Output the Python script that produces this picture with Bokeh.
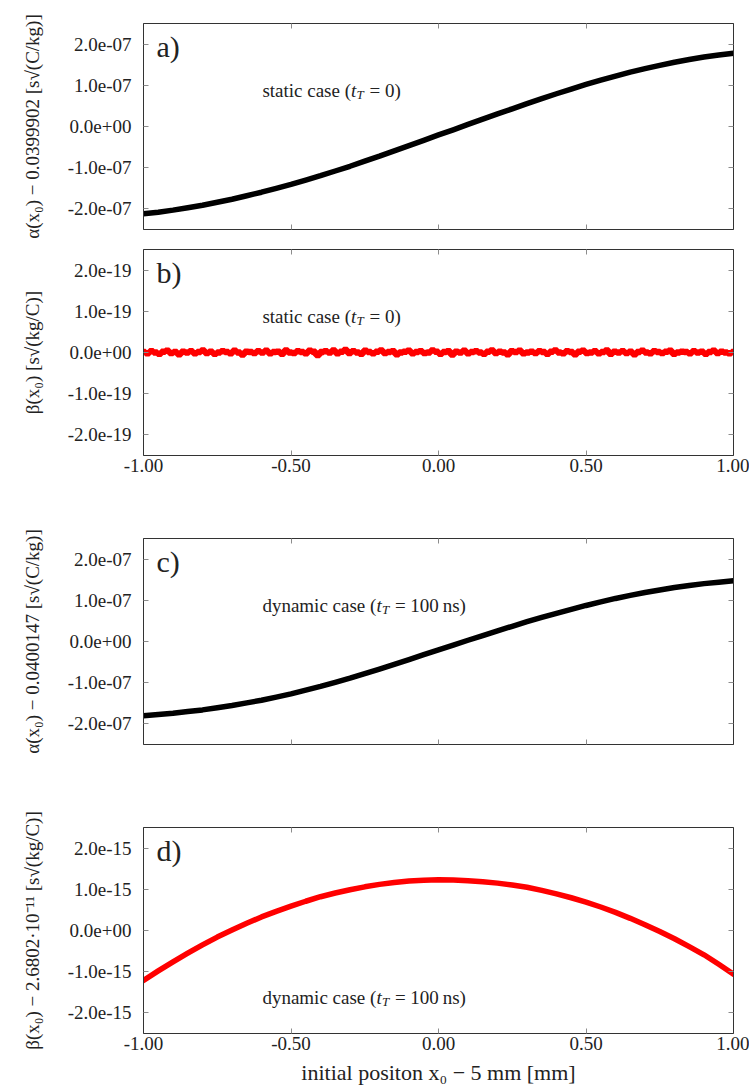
import numpy as np
from bokeh.plotting import figure
from bokeh.models import (Range1d, FixedTicker, LinearAxis, Label, CustomJSTickFormatter,
                          PrintfTickFormatter, CustomLabelingPolicy)
from bokeh.layouts import column
from bokeh.embed import file_html
from bokeh.resources import INLINE

FONT = "Liberation Serif"

# ---------------- data ----------------
x_grid = [-1.00, -0.95, -0.90, -0.85, -0.80, -0.75, -0.70, -0.65, -0.60, -0.55, -0.50,
          -0.45, -0.40, -0.35, -0.30, -0.25, -0.20, -0.15, -0.10, -0.05, 0.00,
          0.05, 0.10, 0.15, 0.20, 0.25, 0.30, 0.35, 0.40, 0.45, 0.50,
          0.55, 0.60, 0.65, 0.70, 0.75, 0.80, 0.85, 0.90, 0.95, 1.00]

# panel a: alpha(x0) - 0.0399902, in units of 1e-7
alpha_static = [-2.12, -2.08, -2.03, -1.97, -1.91, -1.84, -1.765, -1.68, -1.595, -1.50, -1.405,
                -1.30, -1.195, -1.08, -0.965, -0.84, -0.72, -0.59, -0.465, -0.335, -0.205,
                -0.08, 0.05, 0.18, 0.305, 0.43, 0.555, 0.675, 0.795, 0.91, 1.02,
                1.125, 1.225, 1.32, 1.405, 1.485, 1.56, 1.625, 1.685, 1.735, 1.78]
# panel c: alpha(x0) - 0.0400147, in units of 1e-7
alpha_dynamic = [-1.80, -1.77, -1.74, -1.70, -1.66, -1.61, -1.555, -1.49, -1.425, -1.35, -1.27,
                 -1.18, -1.09, -0.99, -0.89, -0.78, -0.67, -0.555, -0.44, -0.32, -0.205,
                 -0.09, 0.03, 0.145, 0.26, 0.37, 0.48, 0.585, 0.685, 0.78, 0.875,
                 0.96, 1.045, 1.12, 1.19, 1.25, 1.31, 1.36, 1.405, 1.44, 1.475]
# panel d: beta(x0) - 2.6802e-11, in units of 1e-15
beta_dynamic = [-1.21, -0.98, -0.76, -0.55, -0.35, -0.16, 0.01, 0.175, 0.33, 0.465, 0.59,
                0.71, 0.82, 0.91, 0.99, 1.06, 1.12, 1.165, 1.20, 1.22, 1.23,
                1.225, 1.21, 1.185, 1.15, 1.105, 1.05, 0.975, 0.89, 0.795, 0.69,
                0.57, 0.44, 0.295, 0.14, -0.025, -0.20, -0.39, -0.59, -0.82, -1.06]
# panel b: beta(x0) static (numerical noise), in units of 1e-19
beta_static = [
    0.01, -0.02, 0.03, 0.00, -0.03, 0.02, 0.04, -0.01, 0.01, -0.04,
    0.02, 0.00, 0.03, -0.02, 0.01, 0.05, -0.01, 0.02, -0.03, 0.00,
    0.03, 0.01, -0.02, 0.04, 0.00, -0.05, 0.02, 0.01, -0.01, 0.03,
    0.00, 0.04, -0.02, 0.01, 0.02, -0.03, 0.05, 0.00, -0.01, 0.03,
    0.01, -0.02, 0.04, 0.02, -0.06, 0.01, 0.03, 0.00, 0.05, -0.02,
    0.02, 0.06, -0.01, 0.03, 0.00, -0.03, 0.04, 0.01, -0.02, 0.02,
    0.05, -0.01, 0.01, 0.03, -0.04, 0.00, 0.02, 0.04, -0.02, 0.01,
    0.03, -0.01, 0.00, 0.05, 0.02, -0.03, 0.01, 0.03, -0.05, 0.02,
    0.00, 0.04, -0.02, 0.01, 0.03, 0.00, -0.03, 0.02, 0.05, -0.01,
    0.02, 0.00, -0.04, 0.03, 0.01, 0.04, -0.02, 0.00, 0.02, -0.01,
    0.03, 0.01, -0.03, 0.02, 0.05, 0.00, -0.02, 0.03, 0.01, -0.04,
    0.02, 0.04, -0.01, 0.00, 0.03, -0.02, 0.01, 0.05, -0.03, 0.02,
    0.00, 0.03, -0.01, 0.02, -0.04, 0.01, 0.04, 0.00, -0.02, 0.03,
    0.01, -0.01, 0.02, 0.04, -0.03, 0.00, 0.02, 0.01, -0.02, 0.03,
    0.00, 0.02, -0.03, 0.01, 0.04, -0.01, 0.02, 0.00, -0.02, 0.01,
]
x_noise = list(np.linspace(-1.0, 1.0, len(beta_static)))

x_ticks = [-1.0, -0.5, 0.0, 0.5, 1.0]
x_tick_labels = ["-1.00", "-0.50", "0.00", "0.50", "1.00"]
y_ticks_unit = [-2.0, -1.0, 0.0, 1.0, 2.0]
y_labels_e07 = ["-2.0e-07", "-1.0e-07", "0.0e+00", "1.0e-07", "2.0e-07"]
y_labels_e19 = ["-2.0e-19", "-1.0e-19", "0.0e+00", "1.0e-19", "2.0e-19"]
y_labels_e15 = ["-2.0e-15", "-1.0e-15", "0.0e+00", "1.0e-15", "2.0e-15"]

ylabel_a = "α(x₀) − 0.0399902 [s√(C/kg)]"
ylabel_b = "β(x₀) [s√(kg/C)]"
ylabel_c = "α(x₀) − 0.0400147 [s√(C/kg)]"
ylabel_d = "β(x₀) − 2.6802·10⁻¹¹ [s√(kg/C)]"
xlabel = "initial positon x₀ − 5 mm [mm]"

EXP_FMT = CustomJSTickFormatter(code="""
const s = tick.toExponential(1);
return s.replace(/e([+-])(\\d)$/, (m, a, b) => "e" + a + "0" + b);
""")

TICK_COLOR = "#8c8c8c"
FRAME_COLOR = "#333333"
TEXT_COLOR = "#222222"


def style_axis(ax, show_labels, standoff):
    ax.major_tick_in = 5
    ax.major_tick_out = 0
    ax.minor_tick_line_color = None
    ax.major_tick_line_color = TICK_COLOR
    ax.major_tick_line_width = 1
    ax.axis_line_color = FRAME_COLOR
    ax.axis_line_width = 1
    ax.major_label_text_font = FONT
    ax.major_label_text_color = TEXT_COLOR
    if show_labels:
        ax.major_label_text_font_size = "19px"
        ax.major_label_standoff = standoff
    else:
        ax.major_label_text_font_size = "1px"
        ax.major_label_standoff = 0
        ax.major_label_policy = CustomLabelingPolicy(code="return new Set()")


def make_panel(unit, ylab, ylabels, top, bottom, show_x, x_title=None):
    lim = 2.5 * unit
    p = figure(frame_width=590, frame_height=206,
               x_range=Range1d(-1.0, 1.0), y_range=Range1d(-lim, lim),
               output_backend="svg", toolbar_location=None,
               min_border_left=143, min_border_right=16,
               min_border_top=top, min_border_bottom=bottom,
               background_fill_color="white", border_fill_color="white",
               outline_line_color=FRAME_COLOR)
    p.xgrid.visible = False
    p.ygrid.visible = False
    yt = [v * unit for v in y_ticks_unit]

    xa = p.xaxis[0]
    xa.ticker = FixedTicker(ticks=x_ticks)
    xa.formatter = PrintfTickFormatter(format="%.2f")
    xa.major_label_overrides = dict(zip(x_ticks, x_tick_labels))
    style_axis(xa, show_x, 3)
    if x_title:
        xa.axis_label = x_title
        xa.axis_label_text_font = FONT
        xa.axis_label_text_font_size = "22px"
        xa.axis_label_text_font_style = "normal"
        xa.axis_label_text_color = TEXT_COLOR
        xa.axis_label_standoff = 7

    ya = p.yaxis[0]
    ya.ticker = FixedTicker(ticks=yt)
    ya.formatter = EXP_FMT
    ya.major_label_overrides = dict(zip(yt, ylabels))
    style_axis(ya, True, 12)
    ya.axis_label = ylab
    ya.axis_label_text_font = FONT
    ya.axis_label_text_font_size = "19px"
    ya.axis_label_text_font_style = "normal"
    ya.axis_label_text_color = TEXT_COLOR
    ya.axis_label_standoff = 22

    ra = LinearAxis(ticker=FixedTicker(ticks=yt))
    style_axis(ra, False, 0)
    p.add_layout(ra, "right")
    ta = LinearAxis(ticker=FixedTicker(ticks=x_ticks))
    style_axis(ta, False, 0)
    p.add_layout(ta, "above")
    return p


def panel_letter(p, unit, letter):
    p.add_layout(Label(x=-1.0, y=1.93 * unit, x_offset=13, text=letter,
                       text_font=FONT, text_font_size="30px", text_color=TEXT_COLOR,
                       text_baseline="middle", text_align="left"))


def case_label(p, x, y, before, w_before, after):
    common = dict(x=x, y=y, text_font=FONT, text_color=TEXT_COLOR,
                  text_baseline="alphabetic", text_align="left")
    p.add_layout(Label(text=before, text_font_size="19px", y_offset=-5, **common))
    p.add_layout(Label(text="t", text_font_size="19px", text_font_style="italic",
                       x_offset=w_before, y_offset=-5, **common))
    p.add_layout(Label(text="T", text_font_size="13px", text_font_style="italic",
                       x_offset=w_before + 5.5, y_offset=-9, **common))
    p.add_layout(Label(text=after, text_font_size="19px",
                       x_offset=w_before + 18.5, y_offset=-5, **common))


# panel a
pa = make_panel(1e-7, ylabel_a, y_labels_e07, 23, 10, False)
pa.line(x_grid, [v * 1e-7 for v in alpha_static], line_color="black", line_width=5.5,
        line_join="round", line_cap="round")
panel_letter(pa, 1e-7, "a)")
case_label(pa, -0.597, 1.0e-7, "static case (", 88.6, "= 0)")

# panel b
pb = make_panel(1e-19, ylabel_b, y_labels_e19, 10, 40, True)
pb.step(x_noise, [v * 1e-19 for v in beta_static], mode="center", line_color="#ff0000",
        line_width=6.5)
panel_letter(pb, 1e-19, "b)")
case_label(pb, -0.597, 1.0e-19, "static case (", 88.6, "= 0)")

# panel c
pc = make_panel(1e-7, ylabel_c, y_labels_e07, 43, 40, False)
pc.line(x_grid, [v * 1e-7 for v in alpha_dynamic], line_color="black", line_width=5.5,
        line_join="round", line_cap="round")
panel_letter(pc, 1e-7, "c)")
case_label(pc, -0.597, 1.0e-7, "dynamic case (", 114.0, "= 100\u2009ns)")

# panel d
pd_ = make_panel(1e-15, ylabel_d, y_labels_e15, 43, 54, True, xlabel)
pd_.line(x_grid, [v * 1e-15 for v in beta_dynamic], line_color="#ff0000", line_width=5.5,
         line_join="round", line_cap="round")
panel_letter(pd_, 1e-15, "d)")
case_label(pd_, -0.597, -1.5e-15, "dynamic case (", 114.0, "= 100\u2009ns)")

layout = column(pa, pb, pc, pd_, spacing=0)
open("out.html", "w").write(file_html(layout, INLINE))
